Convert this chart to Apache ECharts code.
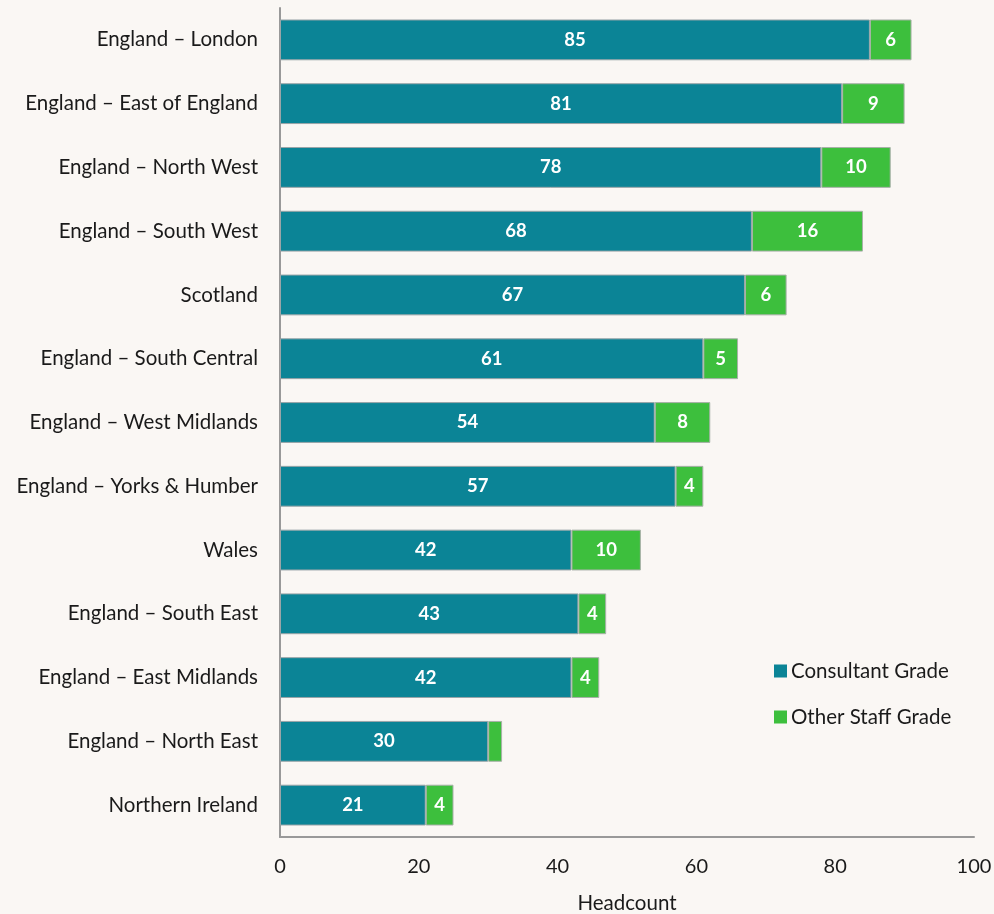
<!DOCTYPE html>
<html><head><meta charset="utf-8">
<script src="https://cdn.jsdelivr.net/npm/echarts@6/dist/echarts.min.js"></script>
<style>html,body{margin:0;padding:0;background:#faf7f4;}#c{width:994px;height:914px;}</style>
</head><body><div id="c"></div>
<script>
const categories = ["England – London","England – East of England","England – North West","England – South West","Scotland","England – South Central","England – West Midlands","England – Yorks & Humber","Wales","England – South East","England – East Midlands","England – North East","Northern Ireland"];
const consultant = [85,81,78,68,67,61,54,57,42,43,42,30,21];
const otherStaff = [6,9,10,16,6,5,8,4,10,4,4,2,4];
const xTicks = [0,20,40,60,80,100];
const FONT = 'Lato';
const chart = echarts.init(document.getElementById('c'));
const lbl = {show:true, position:'inside', color:'#ffffff', fontWeight:'bold', fontSize:18.5, fontFamily:FONT};
chart.setOption({
  backgroundColor:'#faf7f4',
  animation:false,
  grid:{left:280, right:20, top:8, bottom:77, containLabel:false, outerBoundsMode:'none'},
  legend:{orient:'vertical', left:769, top:654, itemWidth:13, itemHeight:13, itemGap:22, icon:'rect',
    itemStyle:{borderWidth:0},
    textStyle:{fontFamily:FONT, fontSize:20.5, color:'#1a1a1a', lineHeight:24, padding:[0,0,0,-1]},
    data:['Consultant Grade','Other Staff Grade']},
  xAxis:{type:'value', min:xTicks[0], max:xTicks[xTicks.length-1], interval:20,
    name:'Headcount', nameLocation:'middle', nameGap:56,
    nameTextStyle:{fontFamily:FONT, fontSize:20.5, color:'#1a1a1a'},
    axisLine:{show:true, lineStyle:{color:'#999999', width:2}},
    axisTick:{show:false}, splitLine:{show:false},
    axisLabel:{fontFamily:FONT, fontSize:20, color:'#1a1a1a', margin:20}},
  yAxis:{type:'category', inverse:true, data:categories,
    axisLine:{show:true, lineStyle:{color:'#999999', width:2}},
    axisTick:{show:false},
    axisLabel:{fontFamily:FONT, fontSize:20.5, color:'#1a1a1a', margin:22}},
  series:[
    {name:'Consultant Grade', type:'bar', stack:'t', barCategoryGap:'36%', data:consultant,
     itemStyle:{color:'#0b8496', borderColor:'#9aa5a8', borderWidth:1}, label:lbl},
    {name:'Other Staff Grade', type:'bar', stack:'t', barCategoryGap:'36%',
     data:otherStaff.map(v=>({value:v, label:{show:v>=3}})),
     itemStyle:{color:'#3dbf3d', borderColor:'#a8b0a8', borderWidth:1}, label:lbl}
  ]
});
</script></body></html>
